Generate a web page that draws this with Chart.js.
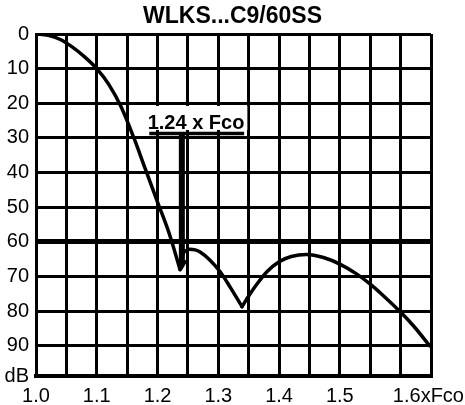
<!DOCTYPE html>
<html>
<head>
<meta charset="utf-8">
<style>
    body { margin: 0; background: #fff; }
</style>
</head>
<body>
<canvas id="myChart" width="465" height="405"></canvas>

<script src="https://cdn.jsdelivr.net/npm/chart.js"></script>

<script>
    // response curve (x = f / Fco, y = attenuation dB)
    let freq = [1.00, 1.02, 1.04, 1.06, 1.08, 1.10, 1.12, 1.14, 1.16, 1.18, 1.20, 1.22, 1.237,
        1.242, 1.247, 1.253, 1.262, 1.27, 1.286, 1.303, 1.319, 1.339,
        1.35, 1.363, 1.38, 1.40, 1.42, 1.445, 1.473, 1.50, 1.528, 1.55, 1.572, 1.599, 1.621, 1.648];
    let atten = [0, 0.4, 1.6, 3.8, 6.6, 10, 14.6, 21, 29.5, 39, 48.5, 58, 68,
        63.5, 62.5, 62.1, 62.3, 62.9, 65.2, 68.6, 72.9, 78.7,
        75.6, 72.3, 68.6, 65.7, 64.2, 63.6, 64.5, 66.4, 69.3, 72.2, 75.6, 80.1, 84.2, 90];
    // the two notches (sharp minima) split the curve into smooth pieces
    let notchIdx = [12, 21];

    let xTickValues = [1.0, 1.05, 1.1, 1.15, 1.2, 1.25, 1.3, 1.35, 1.4, 1.45, 1.5, 1.55, 1.6, 1.65];
    let xTickLabels = ['1.0', '', '1.1', '', '1.2', '', '1.3', '', '1.4', '', '1.5', '', '          1.6xFco', ''];
    let yTickValues = [0, 10, 20, 30, 40, 50, 60, 70, 80, 90, 98.7];
    let yTickLabels = ['0', '10', '20', '30', '40', '50', '60', '70', '80', '90', 'dB'];

    // 1.24 x Fco marker
    let markerFreq = 1.24;
    let markerTop = 28.7;
    let markerTip = 66.3;
    let markerBar = [1.1865, 1.3425];
    let markerText = '1.24 x Fco';
    let markerTextFreq = 1.2633;
    let markerTextDb = 27.4;

    const FONT = '"Liberation Sans", Arial, sans-serif';

    const markerLabel = {
        id: 'markerLabel',
        beforeDatasetsDraw(chart) {
            const c = chart.ctx;
            const x = chart.scales.x, y = chart.scales.y;
            c.save();
            c.font = 'bold 20px ' + FONT;
            let w = c.measureText(markerText).width;
            let cx = x.getPixelForValue(markerTextFreq);
            let by = y.getPixelForValue(markerTextDb);
            c.fillStyle = '#fff';
            c.fillRect(cx - w / 2 - 3, by - 23, w + 6, 24);
            c.fillStyle = '#000';
            c.textAlign = 'center';
            c.textBaseline = 'alphabetic';
            c.fillText(markerText, cx, by);
            c.restore();
        }
    };

    function piece(from, to) {
        let pts = [];
        for (let i = from; i <= to; i++) pts.push({x: freq[i], y: atten[i]});
        return {
            data: pts,
            borderColor: '#000',
            borderWidth: 3.5,
            pointRadius: 0,
            cubicInterpolationMode: 'monotone',
            borderJoinStyle: 'round',
            borderCapStyle: 'round',
        };
    }

    const ctx = document.getElementById('myChart');
    var chart = new Chart(ctx, {
        type: 'line',
        data: {
            datasets: [
                piece(0, notchIdx[0]),
                piece(notchIdx[0], notchIdx[1]),
                piece(notchIdx[1], freq.length - 1),
                {
                    data: [{x: markerFreq, y: markerTop}, {x: markerFreq, y: markerTip}],
                    borderColor: '#000',
                    borderWidth: 6,
                    borderCapStyle: 'butt',
                    pointRadius: [0, 6],
                    pointStyle: 'triangle',
                    rotation: 180,
                    pointBackgroundColor: '#000',
                    pointBorderColor: '#000',
                    pointBorderWidth: 1,
                }, {
                    data: [{x: markerBar[0], y: markerTop}, {x: markerBar[1], y: markerTop}],
                    borderColor: '#000',
                    borderWidth: 3.5,
                    pointRadius: 0,
                }]
        },
        options: {
            responsive: false,
            animation: false,
            plugins: {
                legend: {display: false},
                tooltip: {enabled: false},
                title: {
                    display: true,
                    text: 'WLKS...C9/60SS',
                    color: '#000',
                    font: {family: FONT, size: 23, weight: 'bold'},
                    padding: {top: 3, bottom: 3.4},
                }
            },
            scales: {
                x: {
                    type: 'linear',
                    min: 1.0,
                    max: 1.65,
                    afterBuildTicks: s => { s.ticks = xTickValues.map(v => ({value: v})); },
                    afterFit: s => { s.height = 29; },
                    ticks: {
                        callback: (v, i) => xTickLabels[i],
                        autoSkip: false,
                        maxRotation: 0,
                        minRotation: 0,
                        color: '#000',
                        font: {family: FONT, size: 20},
                        padding: 8,
                    },
                    grid: {color: '#000', lineWidth: 3, drawTicks: false},
                    border: {color: '#000', width: 4},
                },
                y: {
                    type: 'linear',
                    reverse: true,
                    min: 0,
                    max: 98.7,
                    afterBuildTicks: s => { s.ticks = yTickValues.map(v => ({value: v})); },
                    afterFit: s => { s.width = 36; },
                    ticks: {
                        callback: (v, i) => yTickLabels[i],
                        color: '#000',
                        font: {family: FONT, size: 20},
                        padding: 7,
                    },
                    grid: {
                        color: '#000',
                        drawTicks: false,
                        lineWidth: c => (c.tick && c.tick.value === 60 ? 5 : 3),
                    },
                    border: {color: '#000', width: 3},
                },
                // empty right margin so the title centres on the whole page
                yr: {
                    position: 'right',
                    afterFit: s => { s.width = 34; },
                    grid: {display: false},
                    border: {display: false},
                    ticks: {display: false},
                }
            }
        },
        plugins: [markerLabel]
    });
</script>
</body>
</html>
